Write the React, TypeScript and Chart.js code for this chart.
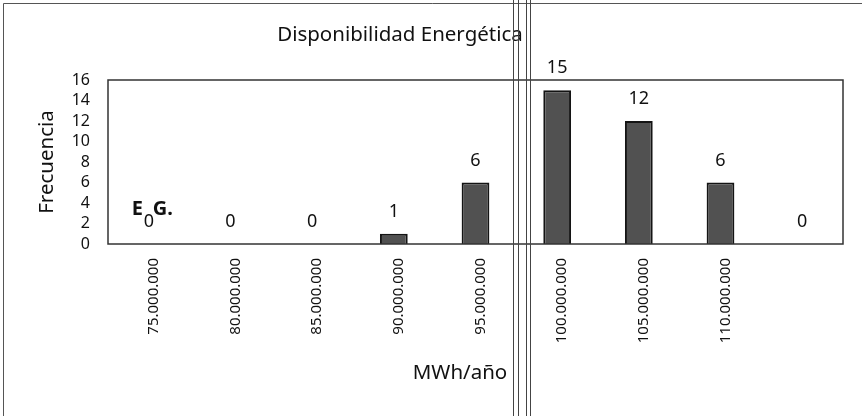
import React, { useEffect, useRef } from "react";
import { Chart, registerables } from "chart.js";

Chart.register(...registerables);

const categories: string[] = [
  "75.000.000",
  "80.000.000",
  "85.000.000",
  "90.000.000",
  "95.000.000",
  "100.000.000",
  "105.000.000",
  "110.000.000",
  "",
];
const frecuencia: number[] = [0, 0, 0, 1, 6, 15, 12, 6, 0];
const yTicks: number[] = [0, 2, 4, 6, 8, 10, 12, 14, 16];
const chartTitle = "Disponibilidad Energética";
const xTitle = "MWh/año";
const yTitle = "Frecuencia";

const FONT = "'Noto Sans', 'DejaVu Sans', sans-serif";
const INK = "#111111";

const decorPlugin = {
  id: "decor",
  beforeDraw(chart: any) {
    const { ctx } = chart;
    ctx.save();
    ctx.fillStyle = "#ffffff";
    ctx.fillRect(0, 0, chart.width, chart.height);
    // outer chart frame (left and top edges visible)
    ctx.strokeStyle = "#555";
    ctx.lineWidth = 1;
    ctx.beginPath();
    ctx.moveTo(3.5, chart.height);
    ctx.lineTo(3.5, 3.5);
    ctx.lineTo(chart.width, 3.5);
    ctx.stroke();
    ctx.restore();
  },
  afterDatasetsDraw(chart: any) {
    const { ctx, chartArea } = chart;
    ctx.save();
    // plot area frame
    ctx.strokeStyle = "#333";
    ctx.lineWidth = 1.5;
    ctx.strokeRect(
      chartArea.left,
      chartArea.top,
      chartArea.right - chartArea.left,
      chartArea.bottom - chartArea.top
    );
    // value labels
    const meta = chart.getDatasetMeta(0);
    ctx.fillStyle = INK;
    ctx.font = `18px ${FONT}`;
    ctx.textAlign = "center";
    ctx.textBaseline = "middle";
    meta.data.forEach((el: any, i: number) => {
      const v = chart.data.datasets[0].data[i];
      ctx.fillText(String(v), el.x, el.y - 22);
    });
    // "E G." annotation near first category
    const first = meta.data[0];
    ctx.font = `bold 20px ${FONT}`;
    ctx.textAlign = "left";
    ctx.textBaseline = "alphabetic";
    ctx.fillText("E", first.x - 17, 215);
    ctx.fillText("G.", first.x + 4, 215);
    // titles
    ctx.font = `20.5px ${FONT}`;
    ctx.textAlign = "center";
    ctx.textBaseline = "middle";
    ctx.fillText(chartTitle, 400, 35);
    ctx.fillText(xTitle, 460, 373);
    ctx.save();
    ctx.translate(47, (chartArea.top + chartArea.bottom) / 2);
    ctx.rotate(-Math.PI / 2);
    ctx.fillText(yTitle, 0, 0);
    ctx.restore();
    // scan fold lines
    ctx.strokeStyle = "#444";
    ctx.lineWidth = 1;
    [513.5, 518.5, 526.5, 530.5].forEach((x) => {
      ctx.beginPath();
      ctx.moveTo(x, 0);
      ctx.lineTo(x, chart.height);
      ctx.stroke();
    });
    ctx.restore();
  },
};

export default function App() {
  const ref = useRef<HTMLCanvasElement | null>(null);

  useEffect(() => {
    document.body.style.margin = "0";
    const canvas = ref.current;
    if (!canvas) return;
    const chart = new Chart(canvas, {
      type: "bar",
      data: {
        labels: categories,
        datasets: [
          {
            label: yTitle,
            data: frecuencia,
            backgroundColor: "#515151",
            borderColor: "#141414",
            borderWidth: 2,
            barPercentage: 0.34,
            categoryPercentage: 1,
          },
        ],
      },
      options: {
        animation: false,
        responsive: false,
        devicePixelRatio: 1,
        layout: { padding: { top: 80, right: 19, left: 0, bottom: 0 } },
        plugins: {
          legend: { display: false },
          tooltip: { enabled: false },
          title: { display: false },
        },
        scales: {
          x: {
            grid: { display: false, drawTicks: false },
            border: { display: false },
            ticks: {
              autoSkip: false,
              minRotation: 90,
              maxRotation: 90,
              padding: 14,
              labelOffset: 5,
              color: INK,
              font: { family: FONT, size: 15 },
            },
            afterFit: (scale: any) => {
              scale.height = 172;
            },
          },
          y: {
            min: 0,
            max: 16,
            grid: { display: false, drawTicks: false },
            border: { display: false },
            afterBuildTicks: (scale: any) => {
              scale.ticks = yTicks.map((v) => ({ value: v }));
            },
            ticks: {
              autoSkip: false,
              stepSize: 2,
              padding: 18,
              color: INK,
              font: { family: FONT, size: 16 },
            },
            afterFit: (scale: any) => {
              scale.width = 108;
            },
          },
        },
      },
      plugins: [decorPlugin],
    });
    return () => chart.destroy();
  }, []);

  return (
    <div style={{ position: "fixed", left: 0, top: 0, width: 862, height: 416 }}>
      <canvas ref={ref} width={862} height={416} style={{ display: "block" }} />
    </div>
  );
}
